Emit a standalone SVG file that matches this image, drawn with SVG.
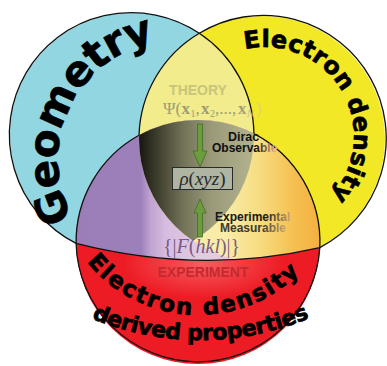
<svg xmlns="http://www.w3.org/2000/svg" width="387" height="366" viewBox="0 0 387 366">
<style>
.heavy{font-family:"DejaVu Sans","Liberation Sans",Arial,sans-serif;font-weight:bold;fill:#000;stroke:#000;stroke-width:0.7;stroke-linejoin:round}
.sb{font-family:"Liberation Sans",Arial,sans-serif;font-weight:bold}
.math{font-family:"Liberation Serif","Times New Roman",serif}
.ol{fill:none;stroke:#111;stroke-width:1.3}
.arrow{fill:#6c9d3c;stroke:#46692a;stroke-width:0.8}
</style>
<defs>
<clipPath id="cCyan"><circle cx="132" cy="135" r="122"/></clipPath>
<clipPath id="cYellow"><circle cx="262" cy="139" r="123"/></clipPath>
<clipPath id="cRed"><circle cx="198" cy="242" r="122"/></clipPath>
<clipPath id="cUpper"><path d="M0,0 H387 V247.6 H319.8 Q200,275 76.1,243.4 H0 Z"/></clipPath>
<linearGradient id="purpleGrad" gradientUnits="userSpaceOnUse" x1="76" y1="0" x2="200" y2="0">
<stop offset="0" stop-color="#9b7db8"/><stop offset="0.52" stop-color="#9d7fba"/><stop offset="0.6" stop-color="#bfa2cf"/><stop offset="0.72" stop-color="#d6bcdf"/><stop offset="1" stop-color="#e4cbe0"/>
</linearGradient>
<linearGradient id="orangeGrad" gradientUnits="userSpaceOnUse" x1="225" y1="0" x2="325" y2="0">
<stop offset="0" stop-color="#f8eca8"/><stop offset="0.35" stop-color="#f7dc80"/><stop offset="0.7" stop-color="#f5bf50"/><stop offset="1" stop-color="#f4ad3b"/>
</linearGradient>
<linearGradient id="darkGrad" gradientUnits="userSpaceOnUse" x1="139" y1="0" x2="255" y2="0">
<stop offset="0" stop-color="#16160f"/><stop offset="0.15" stop-color="#3c3c2c"/><stop offset="0.38" stop-color="#727258"/><stop offset="0.62" stop-color="#9a9a7a"/><stop offset="1" stop-color="#b3b390"/>
</linearGradient>
<radialGradient id="glow">
<stop offset="0" stop-color="#ff9090" stop-opacity="0.55"/><stop offset="1" stop-color="#ff9090" stop-opacity="0"/>
</radialGradient>
<linearGradient id="fadeDirac" gradientUnits="userSpaceOnUse" x1="256" y1="0" x2="276" y2="0">
<stop offset="0" stop-color="#111"/><stop offset="1" stop-color="#ecb58c"/>
</linearGradient>
<linearGradient id="fadeExp" gradientUnits="userSpaceOnUse" x1="266" y1="0" x2="290" y2="0">
<stop offset="0" stop-color="#1a1a1a"/><stop offset="1" stop-color="#c9a46e"/>
</linearGradient>
<linearGradient id="fadeMeas" gradientUnits="userSpaceOnUse" x1="262" y1="0" x2="285" y2="0">
<stop offset="0" stop-color="#3e3a30"/><stop offset="1" stop-color="#c9a46e"/>
</linearGradient>
<linearGradient id="psiGrad" gradientUnits="userSpaceOnUse" x1="240" y1="0" x2="263" y2="0">
<stop offset="0" stop-color="#9c9b76"/><stop offset="1" stop-color="#e4dc80"/>
</linearGradient>
<path id="geoPath" d="M73.05,218.18 A120,120 0 0 1 153.05,42.6"/>
<path id="edPath" d="M245,49.3 A89,89 0 0 1 331.1,195.6"/>
<path id="red1Path" d="M86.9,262.0 A143,143 0 0 0 300.9,271.3"/>
<path id="red2Path" d="M91.5,318.3 A279,279 0 0 0 308.5,318.3"/>
</defs>

<g id="regions">
<circle cx="132" cy="135" r="122" fill="#92d6e2"/>
<circle cx="262" cy="139" r="123" fill="#f3e826"/>
<circle cx="262" cy="139" r="123" fill="#f2ec8c" clip-path="url(#cCyan)"/>
<circle cx="198" cy="242" r="122" fill="#ed1c24"/>
<ellipse cx="203" cy="264" rx="80" ry="34" fill="url(#glow)" clip-path="url(#cRed)"/>
<g clip-path="url(#cUpper)">
<circle cx="198" cy="242" r="122" fill="url(#purpleGrad)"/>
<g clip-path="url(#cYellow)"><circle cx="198" cy="242" r="122" fill="url(#orangeGrad)"/></g>
<g clip-path="url(#cYellow)"><g clip-path="url(#cCyan)"><circle cx="198" cy="242" r="122" fill="url(#darkGrad)"/></g></g>
</g>
</g>

<g id="outlines">
<path class="ol" d="M76.1,243.4 A122,122 0 1 1 199.3,33.3"/>
<path class="ol" d="M199.3,33.3 A123,123 0 1 1 319.8,247.6"/>
<path class="ol" d="M76.1,243.4 A122,122 0 0 0 319.8,247.6"/>
<path class="ol" d="M199.3,33.3 A123,123 0 0 0 139,135.2"/>
<path class="ol" d="M199.3,33.3 A122,122 0 0 1 253.9,133.6"/>
<path class="ol" d="M139,135.2 A122,122 0 0 0 76.1,243.4"/>
<path class="ol" d="M253.9,133.6 A122,122 0 0 1 319.8,247.6"/>
<path class="ol" d="M76.1,243.4 Q200,275 319.8,247.6"/>
</g>

<g id="geometry">
<text class="heavy" font-size="42"><textPath href="#geoPath" textLength="226" lengthAdjust="spacing">Geometry</textPath></text>
</g>

<g id="electron-density">
<text class="heavy" font-size="24"><textPath href="#edPath" textLength="225" lengthAdjust="spacing">Electron density</textPath></text>
</g>

<g id="derived-properties">
<text class="heavy" font-size="23"><textPath href="#red1Path" textLength="240" lengthAdjust="spacing">Electron density</textPath></text>
<text class="heavy" font-size="22"><textPath href="#red2Path" textLength="224" lengthAdjust="spacing">derived properties</textPath></text>
</g>

<g id="theory">
<text class="sb" x="198" y="95" font-size="14" text-anchor="middle" fill="#c8c57c">THEORY</text>
<text class="math" font-size="17" fill="url(#psiGrad)" y="114"><tspan x="163" y="114">Ψ(</tspan><tspan x="181.5" y="114" font-weight="bold">x</tspan><tspan x="190.5" y="117" font-size="10">1</tspan><tspan x="195.5" y="114">,</tspan><tspan x="201" y="114" font-weight="bold">x</tspan><tspan x="210" y="117" font-size="10">2</tspan><tspan x="215" y="114">,...,</tspan><tspan x="238" y="114" font-weight="bold">x</tspan><tspan x="247" y="117" font-size="10" font-style="italic">N</tspan><tspan x="256" y="114">)</tspan></text>
</g>

<g id="rho">
<rect x="172.5" y="167.5" width="60" height="22" fill="#aeb5a3" stroke="#2a2a2a" stroke-width="1"/>
<text class="math" x="202.5" y="184.5" font-size="19" text-anchor="middle" fill="#2a2a2a"><tspan font-style="italic">ρ</tspan>(<tspan font-style="italic">xyz</tspan>)</text>
</g>

<g id="experiment">
<text class="math" x="163" y="253" font-size="20" fill="#6a4c7a" fill-opacity="0.9">{|<tspan font-style="italic">F</tspan>(<tspan font-style="italic">hkl</tspan>)|}</text>
<text class="sb" x="203" y="277" font-size="14" text-anchor="middle" fill="#c42a30">EXPERIMENT</text>
</g>

<g id="connectors">
<path class="arrow" d="M197.5,124 H202.5 V151 H207 L200,167 L193,151 H197.5 Z"/>
<path class="arrow" d="M197.5,237 H202.5 V213 H206 L200,199 L194,213 H197.5 Z"/>
<text class="sb" x="228" y="141" font-size="12.5" fill="#111">Dirac</text>
<text class="sb" x="212" y="152" font-size="12" fill="url(#fadeDirac)">Observable</text>
<text class="sb" x="215" y="221" font-size="12" fill="url(#fadeExp)">Experimental</text>
<text class="sb" x="220" y="232" font-size="12" fill="url(#fadeMeas)">Measurable</text>
</g>
</svg>
